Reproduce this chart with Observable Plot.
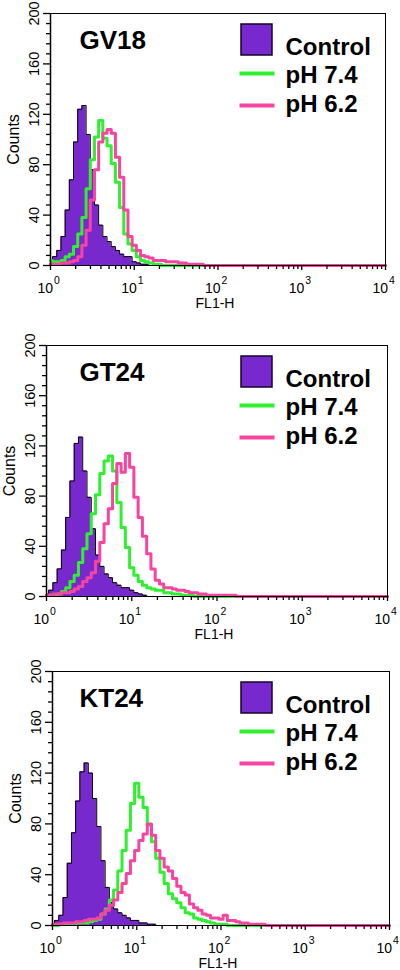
<!DOCTYPE html>
<html><head><meta charset="utf-8">
<script src="https://cdn.jsdelivr.net/npm/d3@7"></script>
<script src="https://cdn.jsdelivr.net/npm/@observablehq/plot@0.6"></script>
<style>
body{margin:0;background:#fff;}
#wrap{position:relative;width:400px;height:970px;overflow:hidden;}
#wrap svg{position:absolute;left:0;}
</style></head><body><div id="wrap"></div>
<script>
// ---- data ----
const panelNames = ["GV18", "GT24", "KT24"];
const seriesNames = ["Control", "pH 7.4", "pH 6.2"];
const binStep = 0.05; // histogram channel width, in decades of FL1-H

// GV18
const control1 = [3,7,12,23,44,68,98,124,127,104,76,48,32,23,19,15,12,9,7,7,3,2,1,1,0];
const ph74_1 = [4,3,3,4,7,9,15,25,38,61,84,102,115,101,95,81,66,46,25,17,12,7,4,3,2,1,1,0];
const ph62_1 = [1,1,1,2,2,3,4,7,16,28,52,76,98,105,108,105,86,70,44,23,16,12,8,7,6,4,4,4,3,3,3,2,2,1,1,1,1,0];
// GT24
const control2 = [2,5,11,22,37,63,92,122,127,100,79,54,33,24,18,15,11,9,7,7,5,3,2,1,0];
const ph74_2 = [1,1,1,2,4,7,12,17,27,38,50,66,81,98,108,112,100,75,55,39,23,17,12,9,7,6,5,5,3,3,2,2,1,1,1,0];
const ph62_2 = [1,1,2,2,3,3,4,6,8,12,15,19,28,43,58,70,90,106,99,114,103,79,63,48,34,22,13,10,7,7,6,5,5,4,3,3,2,2,1,1,1,1,1,1,1,0];
// KT24
const control3 = [1,4,8,22,49,73,98,121,128,120,100,78,51,30,18,13,10,8,6,4,4,2,2,1,1,0];
const ph74_3 = [0,0,1,1,1,1,2,2,2,3,4,5,9,13,20,28,43,59,75,96,112,101,93,79,66,53,42,33,25,21,18,14,10,9,6,5,4,3,2,1,1,1,0];
const ph62_3 = [1,1,1,2,2,2,3,3,4,5,5,6,9,12,16,20,26,33,41,51,59,67,72,80,71,59,53,46,43,37,31,26,24,17,14,12,9,8,6,6,5,8,4,4,3,2,2,1,1,1,1,0];

const yMajor = [0, 40, 80, 120, 160, 200];
const yMinor = [8,16,24,32,48,56,64,72,88,96,104,112,128,136,144,152,168,176,184,192];
const xMajor = [1, 10, 100, 1000, 10000];
const xMajorExp = ["0", "1", "2", "3", "4"];
const xMinor = [2,3,4,5,6,7,8,9,20,30,40,50,60,70,80,90,200,300,400,500,600,700,800,900,2000,3000,4000,5000,6000,7000,8000,9000];
const xLabel = "FL1-H";
const yLabel = "Counts";

// ---- style / layout ----
const PURPLE = "#7829cd", GREEN = "#2ef02e", PINK = "#f844a0";
const panels = [
  {name: panelNames[0], ctrl: control1, g: ph74_1, p: ph62_1, top: 0,   mt: 13, mb: 55, ml: 50, mr: 15},
  {name: panelNames[1], ctrl: control2, g: ph74_2, p: ph62_2, top: 330, mt: 15, mb: 54, ml: 46, mr: 13},
  {name: panelNames[2], ctrl: control3, g: ph74_3, p: ph62_3, top: 650, mt: 21, mb: 45, ml: 52, mr: 11}
];

const hline = {draw(ctx, size) { const r = Math.sqrt(size / Math.PI); ctx.moveTo(-r, 0); ctx.lineTo(r, 0); }};
const bins = arr => arr.map((c, i) => ({x: Math.pow(10, i * binStep), y: c}));
const withTail = arr => bins(arr).concat([{x: 10000, y: 0}]);

const wrap = document.getElementById("wrap");
for (const P of panels) {
  const fa = "top-left";
  const chart = Plot.plot({
    width: 400, height: 320,
    marginTop: P.mt, marginBottom: P.mb, marginLeft: P.ml, marginRight: P.mr,
    style: {fontFamily: "'Liberation Sans', Arial, Helvetica, sans-serif", background: "white", overflow: "visible", color: "black"},
    x: {type: "log", domain: [1, 10000]},
    y: {domain: [0, 200]},
    marks: [
      Plot.areaY(bins(P.ctrl), {x: "x", y: "y", curve: "step", fill: PURPLE}),
      Plot.lineY(bins(P.ctrl), {x: "x", y: "y", curve: "step", stroke: "black", strokeWidth: 1}),
      Plot.lineY(withTail(P.g), {x: "x", y: "y", curve: "step", stroke: GREEN, strokeWidth: 3}),
      Plot.lineY(withTail(P.p), {x: "x", y: "y", curve: "step", stroke: PINK, strokeWidth: 3}),
      Plot.frame({stroke: "black", strokeWidth: 1}),
      Plot.ruleX([1], {stroke: "black", strokeWidth: 1.5}),
      Plot.axisY({ticks: yMajor, tickSize: 7, tickFormat: () => "", label: null, strokeWidth: 1.3}),
      Plot.axisY({ticks: yMinor, tickSize: 4, tickFormat: () => "", label: null, strokeWidth: 1.3}),
      Plot.axisX({ticks: xMajor, tickSize: 5, tickFormat: () => "", label: null, strokeWidth: 1.3}),
      Plot.axisX({ticks: xMinor, tickSize: 4, tickFormat: () => "", label: null, strokeWidth: 1.3}),
      Plot.text(yMajor, {y: d => d, text: d => String(d), frameAnchor: "left", dx: -16, rotate: -90, fontSize: 14.5, textAnchor: "middle", lineAnchor: "middle", fill: "black"}),
      Plot.text([yLabel], {text: d => d, frameAnchor: "left", dx: -37, rotate: -90, fontSize: 16, textAnchor: "middle", lineAnchor: "middle", fill: "black"}),
      Plot.text(xMajor, {x: d => d, text: () => "10", frameAnchor: "bottom", dy: 27, dx: 2.5, textAnchor: "end", lineAnchor: "bottom", fontSize: 14, fill: "black"}),
      Plot.text(xMajor, {x: d => d, text: (d, i) => xMajorExp[i], frameAnchor: "bottom", dy: 18, dx: 3.5, textAnchor: "start", lineAnchor: "bottom", fontSize: 10.5, fill: "black"}),
      Plot.text([xLabel], {text: d => d, frameAnchor: "bottom", dy: 42, dx: -3, lineAnchor: "bottom", fontSize: 14, fill: "black"}),
      Plot.text([P.name], {text: d => d, frameAnchor: fa, dx: 79 - P.ml, dy: 35, textAnchor: "start", lineAnchor: "bottom", fontSize: 26, fontWeight: "bold", fill: "black"}),
      // legend
      Plot.dot([seriesNames[0]], {frameAnchor: fa, dx: 256 - P.ml, dy: 26, symbol: "square", r: 17.5, fill: PURPLE, stroke: "#14062b", strokeWidth: 1.5}),
      Plot.dot([seriesNames[1]], {frameAnchor: fa, dx: 256.5 - P.ml, dy: 60, symbol: hline, r: 17.5, stroke: GREEN, strokeWidth: 4}),
      Plot.dot([seriesNames[2]], {frameAnchor: fa, dx: 256.5 - P.ml, dy: 92, symbol: hline, r: 17.5, stroke: PINK, strokeWidth: 4}),
      Plot.text([seriesNames[0]], {text: d => d, frameAnchor: fa, dx: 285 - P.ml, dy: 41, textAnchor: "start", lineAnchor: "bottom", fontSize: 24, fontWeight: "bold", fill: "black"}),
      Plot.text([seriesNames[1]], {text: d => d, frameAnchor: fa, dx: 285 - P.ml, dy: 69, textAnchor: "start", lineAnchor: "bottom", fontSize: 24, fontWeight: "bold", fill: "black"}),
      Plot.text([seriesNames[2]], {text: d => d, frameAnchor: fa, dx: 285 - P.ml, dy: 98, textAnchor: "start", lineAnchor: "bottom", fontSize: 24, fontWeight: "bold", fill: "black"})
    ]
  });
  chart.style.top = P.top + "px";
  wrap.appendChild(chart);
}
</script></body></html>
